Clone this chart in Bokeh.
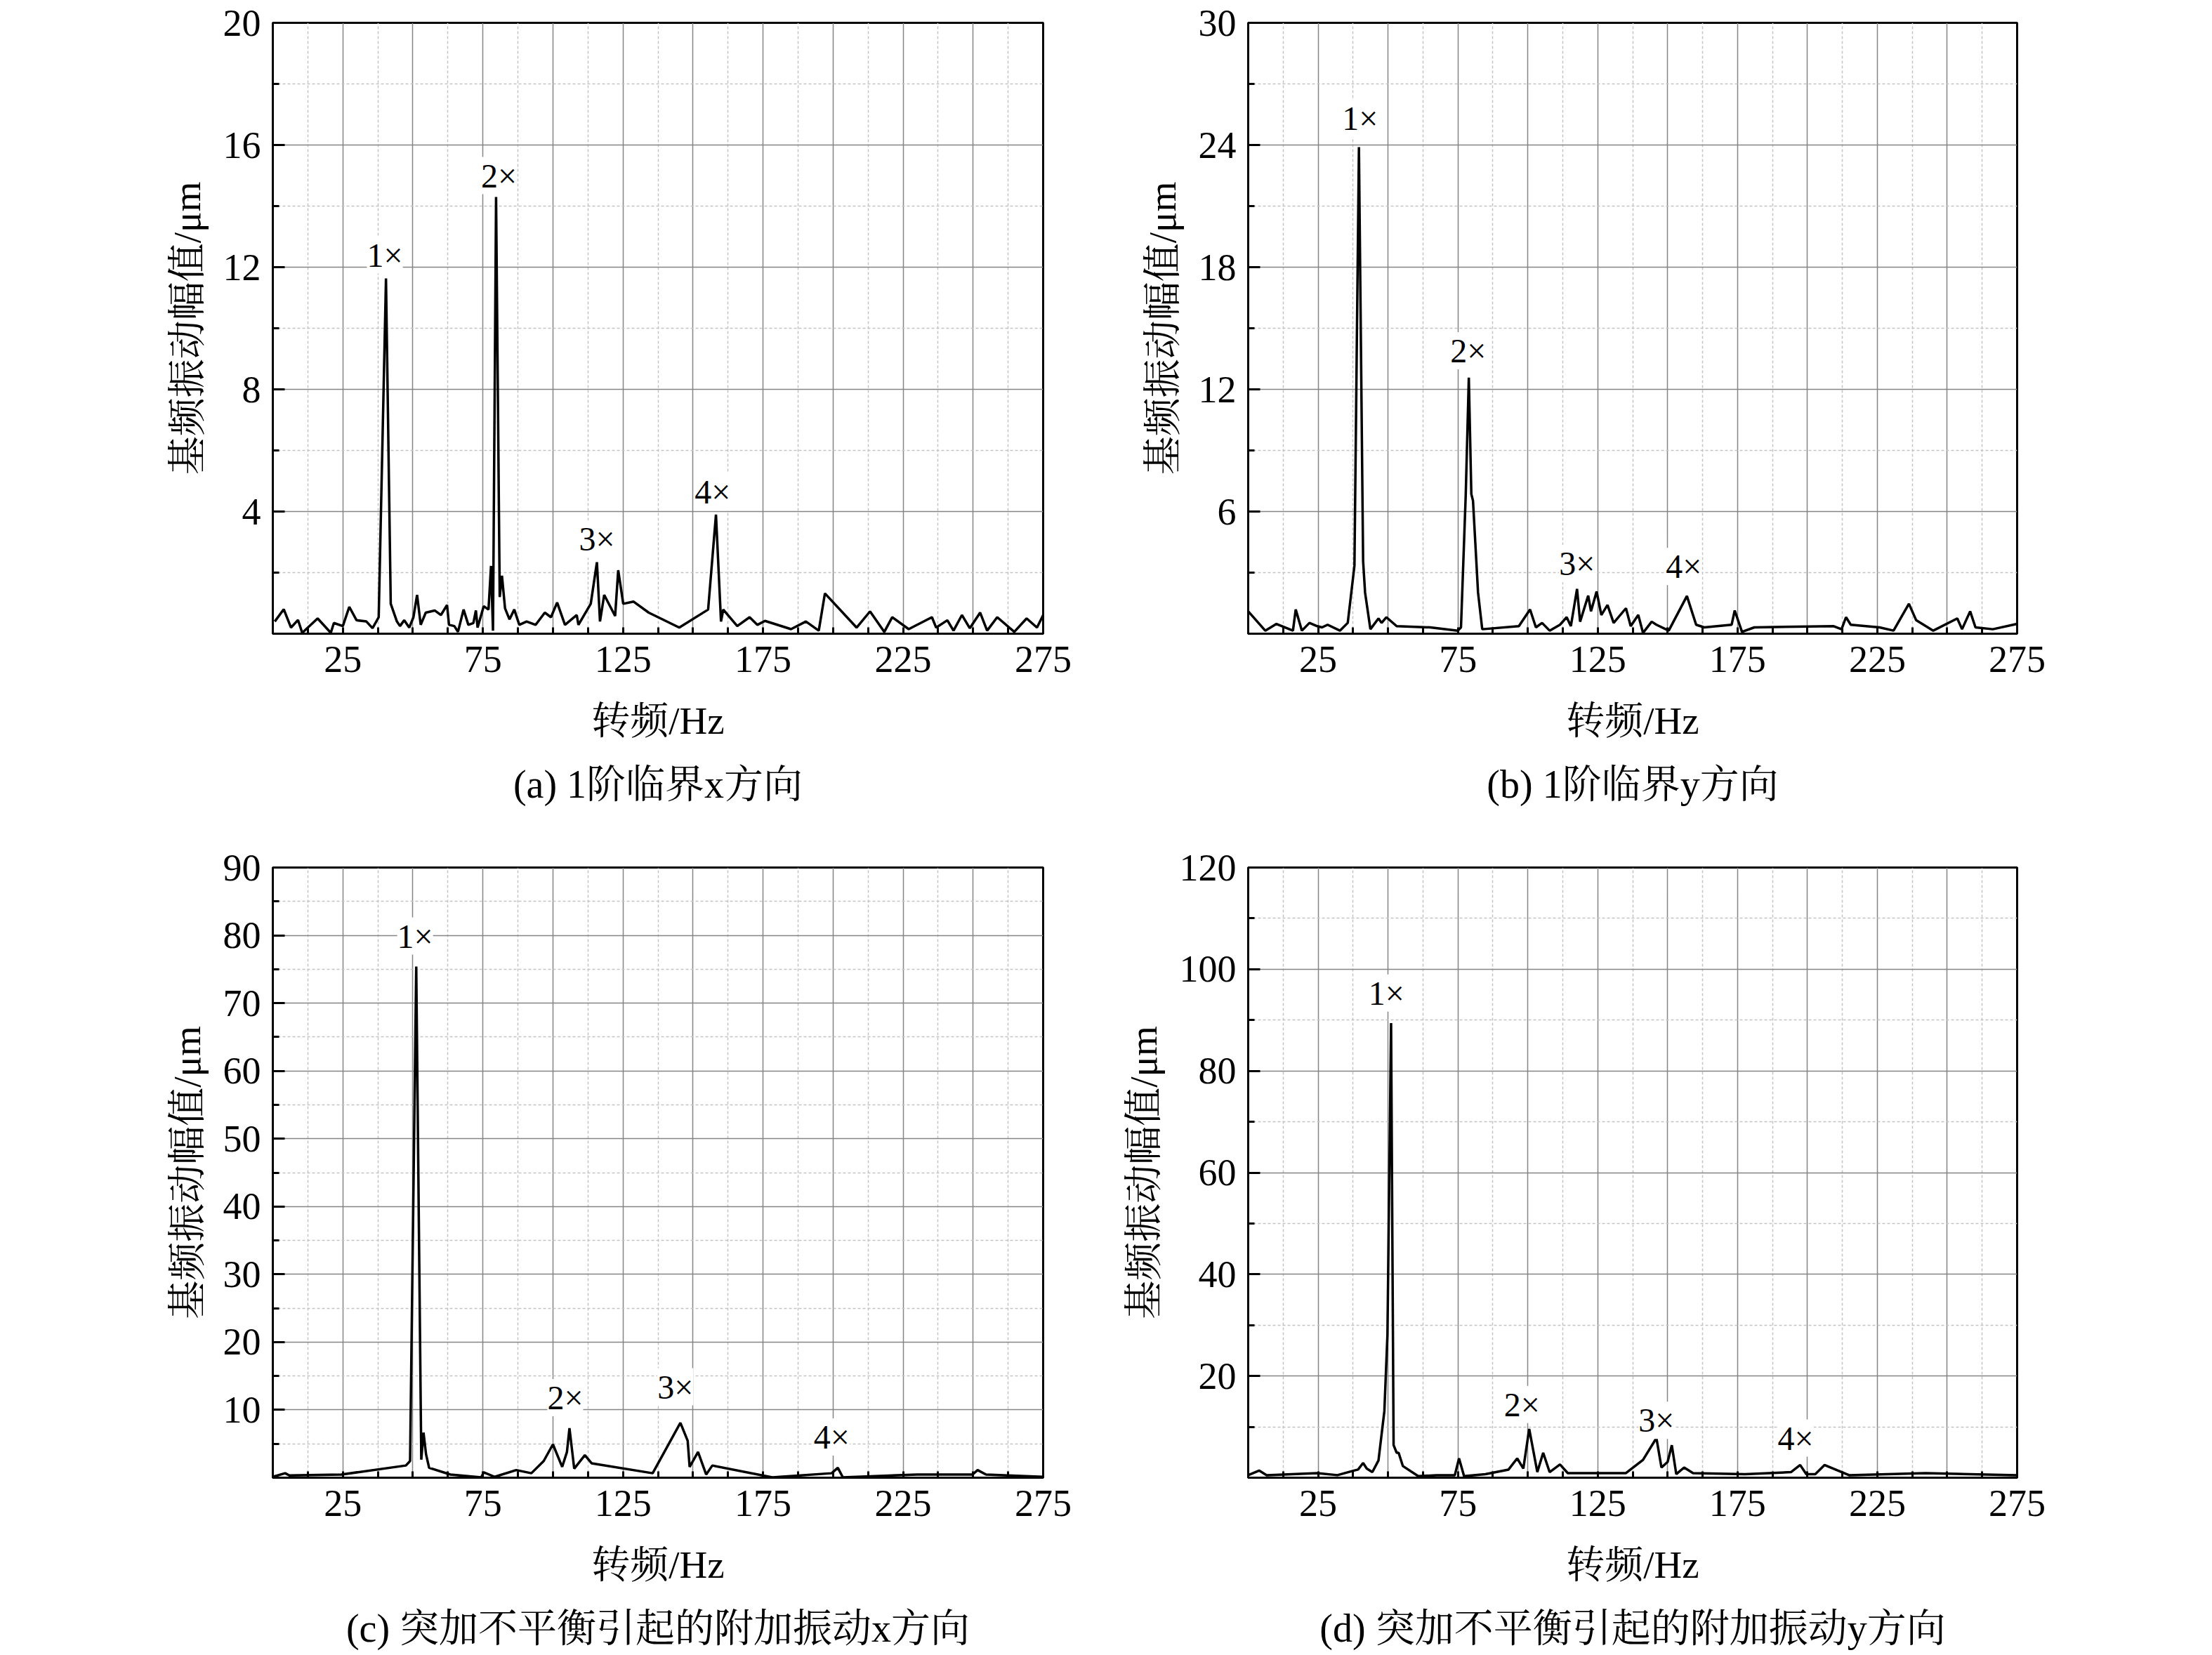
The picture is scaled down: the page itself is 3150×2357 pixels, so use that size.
from bokeh.plotting import figure
from bokeh.models import ColumnDataSource, FixedTicker, LabelSet, Range1d, Title
from bokeh.layouts import column, row
from bokeh.core.properties import value
from bokeh.embed import file_html
from bokeh.resources import INLINE

FONT = "'Liberation Serif', 'Noto Serif CJK SC', 'Noto Sans CJK SC', serif"

# (a) 1阶临界 x方向
a_freq = [0.7, 3.9, 6.5, 9, 10.5, 16, 20.7, 21.8, 25, 27.3, 29.9, 33.4, 35.6, 37.8, 40.4, 42.1,
          44.3, 45.4, 46.9, 48.7, 50.2, 51.5, 52.8, 54.6, 57.8, 60, 62.2, 62.9, 64.8, 66.1, 68.1,
          69.8, 71.6, 72.5, 73.1, 75.3, 77, 77.9, 78.6, 79.7, 81, 81.8, 82.9, 84.5, 86.2, 88,
          90.6, 93.8, 97.1, 99.3, 101.5, 104.3, 108.5, 109.1, 113.5, 115.7, 116.8, 118.3, 122.2,
          123.3, 125.1, 128.8, 134.2, 145.1, 155.4, 158.2, 160, 160.8, 165.8, 170.2, 173, 175.7,
          185, 190.3, 194.9, 197.1, 208.4, 213.2, 218.3, 221.1, 227, 235.3, 236.8, 240.8, 243,
          246, 248.8, 252.5, 255, 258.6, 264.7, 269.1, 272.8, 275]
a_amp = [0.4, 0.8, 0.2, 0.45, 0.03, 0.5, 0.03, 0.35, 0.25, 0.88, 0.44, 0.4, 0.18, 0.54, 11.63, 0.98,
         0.4, 0.25, 0.44, 0.2, 0.54, 1.27, 0.29, 0.69, 0.76, 0.61, 0.94, 0.29, 0.25, 0.06, 0.79,
         0.29, 0.35, 0.76, 0.2, 0.9, 0.79, 2.22, 0.1, 14.3, 1.2, 1.9, 0.83, 0.47, 0.79, 0.29,
         0.4, 0.29, 0.69, 0.54, 1.02, 0.29, 0.61, 0.29, 0.98, 2.34, 0.4, 1.27, 0.58,
         2.08, 0.98, 1.05, 0.69, 0.2, 0.79, 3.9, 0.4, 0.79, 0.25, 0.54, 0.29, 0.42,
         0.15, 0.4, 0.1, 1.32, 0.2, 0.73, 0.06, 0.54, 0.15, 0.54, 0.2, 0.44, 0.1,
         0.61, 0.18, 0.69, 0.1, 0.54, 0.06, 0.5, 0.2, 0.61]

# (b) 1阶临界 y方向
b_freq = [0, 6.1, 10.1, 16, 17, 19.2, 21.9, 24.7, 26.4, 28.4, 32.8, 35.6, 38, 39.6, 41.1, 41.8,
          43.7, 46.6, 47.7, 49.4, 53.1, 65.1, 75, 76.1, 77.8, 78.9, 79.8, 80.4, 82.2, 83.7,
          96.8, 100.8, 102.9, 105.1, 107.8, 111.5, 113.9, 115.4, 117.6, 118.7, 121.6, 122.6,
          124.6, 126.3, 128.5, 130.7, 135.1, 136.8, 139.5, 141.2, 144.3, 146, 150.4, 156.9,
          160.2, 163.1, 172.9, 174, 176.6, 181, 209.4, 212.2, 213.8, 215.5, 225.8, 230.8,
          236.3, 238.9, 245, 253.6, 255.3, 258.2, 260.1, 266.3, 275]
b_amp = [1.1, 0.15, 0.48, 0.15, 1.19, 0.15, 0.53, 0.37, 0.31, 0.44, 0.15, 0.53, 3.34, 23.9, 3.56, 2.02,
         0.22, 0.75, 0.53, 0.81, 0.37, 0.31, 0.15, 0.31, 6.82, 12.58, 6.86, 6.53, 2.02, 0.22,
         0.37, 1.19, 0.31, 0.53, 0.15, 0.44, 0.81, 0.37, 2.2, 0.59, 1.87, 1.1,
         2.07, 0.92, 1.41, 0.53, 1.25, 0.37, 0.92, 0.04, 0.59, 0.44, 0.15, 1.85,
         0.44, 0.31, 0.44, 1.14, 0.09, 0.31, 0.37, 0.22, 0.81, 0.44, 0.31, 0.15,
         1.47, 0.66, 0.15, 0.75, 0.22, 1.1, 0.31, 0.22, 0.48]

# (c) 突加不平衡 x方向
c_freq = [0, 4.4, 5.9, 24.5, 47.5, 49, 51.2, 53, 53.8, 54.7, 55.8, 63.4, 74.4, 75.3, 79.2, 86.9,
          92.3, 96.7, 100, 103.3, 105, 105.9, 107.6, 111.4, 113.8, 135.6, 145.5, 148.1, 148.8,
          151.8, 154.7, 156.9, 178.3, 199.5, 201.7, 203.5, 230.1, 249.8, 251.6, 254.6, 275]
c_amp = [0.13, 0.66, 0.33, 0.47, 1.8, 2.46, 75.4, 2.66, 6.65, 3.46, 1.46, 0.47, 0.05, 0.8, 0.13, 1.13,
         0.66, 2.46, 4.92, 1.6, 3.79, 7.31, 1.33, 3.32, 2.13, 0.66, 8.1, 5.45, 1.6,
         3.79, 0.47, 1.8, 0.05, 0.66, 1.46, 0.05, 0.47, 0.47, 1.13, 0.47, 0.13]

# (d) 突加不平衡 y方向
d_freq = [0, 3.9, 6.6, 24.7, 31.9, 37.8, 39.3, 41.1, 42.4, 44.4, 46.6, 48.7, 49.8, 51.1, 52, 53.1,
          53.8, 55.3, 60.8, 67.3, 73.9, 75.4, 77.2, 84.8, 93.1, 96.2, 98.4, 100.5, 103.4, 105.5,
          107.8, 111.5, 114.3, 135.1, 141.2, 146, 147.8, 150, 151.5, 153.1, 155.9, 159.1, 177.7,
          194.1, 197.4, 199.6, 202.8, 206.1, 214.9, 242.2, 275]
d_amp = [0.5, 1.4, 0.5, 0.9, 0.5, 1.4, 1.6, 2.9, 1.8, 1.1, 3.4, 13.1, 28.1, 89.4, 6.4, 4.9,
         4.9, 2.3, 0.3, 0.5, 0.5, 3.8, 0.3, 0.7, 1.6, 3.8, 1.8, 9.6, 1.1, 4.9,
         1.1, 2.6, 0.9, 0.9, 3.5, 7.8, 2.0, 3.1, 6.4, 0.7, 2.0, 0.9, 0.7,
         1.1, 2.5, 0.7, 0.7, 2.5, 0.5, 0.9, 0.5]

harm_text = ["1×", "2×", "3×", "4×"]
a_lab_x = [40, 80.7, 115.7, 157]
a_lab_y = [12.4, 15.0, 3.1, 4.64]
b_lab_x = [40, 78.7, 117.6, 155.8]
b_lab_y = [25.3, 13.9, 3.45, 3.3]
c_lab_x = [50.8, 104.4, 143.7, 199.5]
c_lab_y = [79.9, 11.8, 13.4, 6.0]
d_lab_x = [49.4, 97.9, 146, 195.8]
d_lab_y = [95.3, 14.4, 11.3, 7.8]

captions = ["(a) 1阶临界x方向", "(b) 1阶临界y方向",
            "(c) 突加不平衡引起的附加振动x方向", "(d) 突加不平衡引起的附加振动y方向"]
x_title = "转频/Hz"
y_title = "基频振动幅值/μm"
x_max = 275
x_labels = [25, 75, 125, 175, 225, 275]


def make_panel(freq, amp, ymax, ystep, lab_x, lab_y, caption, w, h, bl, br, bt, bb):
    p = figure(width=w, height=h, x_range=Range1d(0, x_max), y_range=Range1d(0, ymax),
               min_border_left=bl, min_border_right=br, min_border_top=bt, min_border_bottom=bb,
               output_backend="svg", toolbar_location=None)
    p.background_fill_color = "white"
    p.border_fill_color = "white"
    p.outline_line_color = "black"
    p.outline_line_width = 3

    # grid: solid every 25 Hz / ystep, dashed in between
    p.xgrid.ticker = FixedTicker(ticks=[25 * i for i in range(12)],
                                 minor_ticks=[12.5 + 25 * i for i in range(11)])
    n = int(round(ymax / ystep))
    p.ygrid.ticker = FixedTicker(ticks=[ystep * i for i in range(n + 1)],
                                 minor_ticks=[ystep * (i + 0.5) for i in range(n)])
    for g in (p.xgrid, p.ygrid):
        g.grid_line_color = "#858585"
        g.grid_line_width = 1.5
        g.minor_grid_line_color = "#c4c4c4"
        g.minor_grid_line_width = 1.5
        g.minor_grid_line_dash = "4 3"

    p.xaxis.ticker = FixedTicker(ticks=x_labels,
                                 minor_ticks=[12.5 * i for i in range(23) if 12.5 * i not in x_labels])
    p.yaxis.ticker = FixedTicker(ticks=[ystep * i for i in range(1, n + 1)],
                                 minor_ticks=[ystep * (i + 0.5) for i in range(n)])

    for ax in (p.xaxis[0], p.yaxis[0]):
        ax.axis_line_color = "black"
        ax.axis_line_width = 3
        ax.major_tick_line_width = 3
        ax.minor_tick_line_width = 3
        ax.major_tick_out = 0
        ax.minor_tick_out = 0
        ax.major_label_text_font = FONT
        ax.major_label_text_font_size = "54px"
        ax.major_label_text_color = "black"
        ax.axis_label_text_font = FONT
        ax.axis_label_text_font_size = "55px"
        ax.axis_label_text_font_style = "normal"
        ax.axis_label_text_color = "black"
    p.xaxis.major_tick_in = 9
    p.xaxis.minor_tick_in = 9
    p.yaxis.major_tick_in = 17
    p.yaxis.minor_tick_in = 9
    p.xaxis.major_label_standoff = 18
    p.yaxis.major_label_standoff = 17
    p.xaxis.axis_label = x_title
    p.yaxis.axis_label = y_title
    p.xaxis.axis_label_standoff = 36
    p.yaxis.axis_label_standoff = 18

    p.line(freq, amp, line_color="black", line_width=3.5)

    src = ColumnDataSource(data=dict(x=lab_x, y=lab_y, text=harm_text))
    p.add_layout(LabelSet(x="x", y="y", text="text", source=src, text_align="center",
                          text_baseline="middle", text_font=value(FONT), text_font_size="48px",
                          text_color="black", background_fill_color="white"))

    p.add_layout(Title(text=caption, align="center", text_font=FONT, text_font_size="56px",
                       text_font_style="normal", text_color="black", standoff=48), "below")
    return p


pa = make_panel(a_freq, a_amp, 20, 4, a_lab_x, a_lab_y, captions[0], 1575, 1180, 388, 90, 32, 278)
pb = make_panel(b_freq, b_amp, 30, 6, b_lab_x, b_lab_y, captions[1], 1559, 1180, 202, 262, 32, 278)
pc = make_panel(c_freq, c_amp, 90, 10, c_lab_x, c_lab_y, captions[2], 1575, 1210, 388, 90, 55, 286)
pd = make_panel(d_freq, d_amp, 120, 20, d_lab_x, d_lab_y, captions[3], 1559, 1210, 202, 262, 55, 286)

layout = column(row(pa, pb), row(pc, pd))
open("out.html", "w").write(file_html(layout, INLINE))
